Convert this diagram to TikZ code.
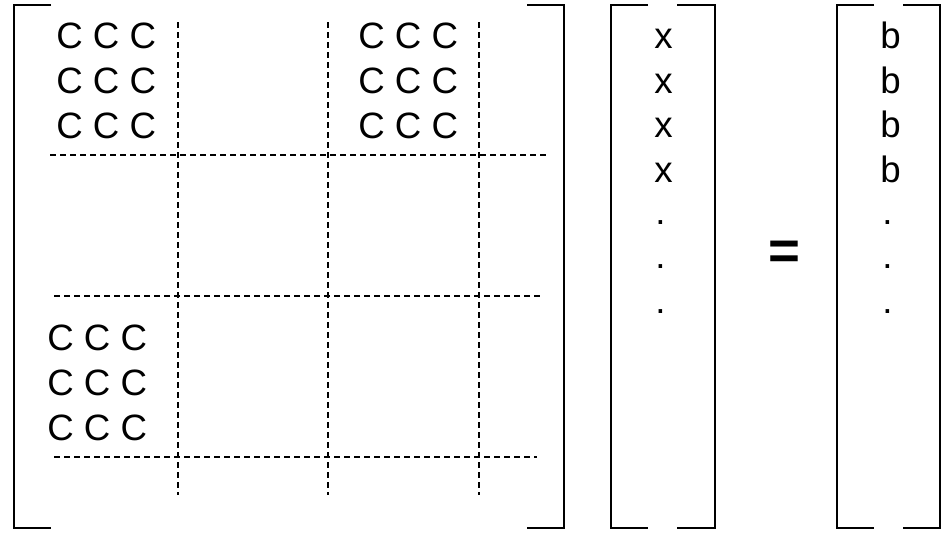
\documentclass[tikz,border=0pt]{standalone}
\usepackage{fontspec}
\setmainfont{Liberation Sans}
\begin{document}
\begin{tikzpicture}[x=0.75pt,y=-0.75pt,
  brk/.style={line width=1.5pt},
  gridline/.style={line width=1.9pt, dash pattern=on 4.8pt off 2.7pt},
  ent/.style={inner sep=0pt, anchor=base west, font=\fontsize{27.5}{30}\selectfont},
  eqsign/.style={inner sep=0pt, anchor=base, font=\fontsize{41}{41}\selectfont\bfseries}]
\useasboundingbox (0,0) rectangle (946,533);
% brackets
\draw[brk] (51,5) -- (14,5) -- (14,528) -- (51,528);
\draw[brk] (527,5) -- (564,5) -- (564,528) -- (527,528);
\draw[brk] (648,5) -- (611,5) -- (611,528) -- (648,528);
\draw[brk] (677,5) -- (715,5) -- (715,528) -- (677,528);
\draw[brk] (874,5) -- (837,5) -- (837,528) -- (874,528);
\draw[brk] (903,5) -- (940,5) -- (940,528) -- (903,528);
% dashed block grid
\draw[gridline] (178,22) -- (178,495);
\draw[gridline] (328,22) -- (328,495);
\draw[gridline] (479,22) -- (479,495);
\draw[gridline] (50,155) -- (547,155);
\draw[gridline] (54,296) -- (541,296);
\draw[gridline] (54,457) -- (537,457);
% blocks
\foreach \i/\y in {1/48,2/93,3/138} {
  \node[ent] (tl\i) at (56,\y) {C C C};
  \node[ent] (tr\i) at (358,\y) {C C C};
}
\foreach \i/\y in {1/350,2/395,3/440}
  \node[ent] (bl\i) at (47,\y) {C C C};
% vectors
\foreach \i/\y in {1/48,2/93,3/137,4/182} {
  \node[ent] (x\i) at (654,\y) {x};
  \node[ent] (b\i) at (880,\y) {b};
}
\foreach \i/\y in {5/224,6/268,7/313} {
  \node[ent] (x\i) at (655,\y) {.};
  \node[ent] (b\i) at (882,\y) {.};
}
\node[eqsign] (eq) at (784,269) {=};
\end{tikzpicture}
\end{document}
